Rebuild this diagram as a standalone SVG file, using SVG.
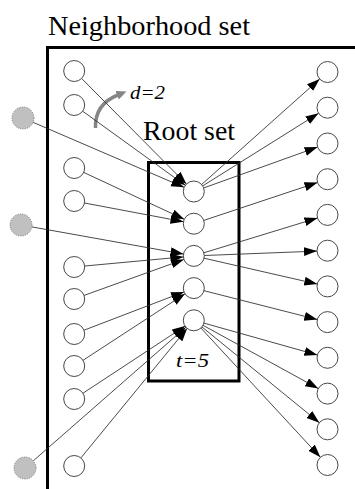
<svg xmlns="http://www.w3.org/2000/svg" width="355" height="489" viewBox="0 0 355 489">
  <style>
    .node { fill: #ffffff; stroke: #333333; stroke-width: 0.9; }
    .ext { fill: #c0c0c0; stroke: #777777; stroke-width: 1; stroke-dasharray: 1 1.4; }
    .edge { stroke: #2a2a2a; stroke-width: 0.85; fill: none; marker-end: url(#arrow); }
    .frame { fill: none; stroke: #000000; stroke-width: 3; }
  </style>
  <defs>
    <marker id="arrow" markerUnits="userSpaceOnUse" markerWidth="14" markerHeight="10" refX="13" refY="4.5" orient="auto">
      <path d="M0,0 L13,4.5 L0,9 z" fill="#000000"/>
    </marker>
    <marker id="grayArrow" markerUnits="userSpaceOnUse" markerWidth="12" markerHeight="10" refX="2" refY="4.5" orient="auto">
      <path d="M0,0 L10,4.5 L0,9 z" fill="#858585"/>
    </marker>
  </defs>

  <rect width="355" height="489" fill="#ffffff"/>

  <!-- neighborhood frame: left and top edges, open to the right and bottom -->
  <g id="neighborhood-set">
    <path class="frame" d="M47.5,489 L47.5,47.5 L355,47.5"/>
    <text x="48" y="34.5" font-family="Liberation Serif, serif" font-size="28" textLength="202" lengthAdjust="spacingAndGlyphs">Neighborhood set</text>
  </g>

  <!-- root set frame -->
  <g id="root-set">
    <rect class="frame" x="148.5" y="162.5" width="90.5" height="218.5"/>
    <text x="143" y="139.5" font-family="Liberation Serif, serif" font-size="27" textLength="92" lengthAdjust="spacingAndGlyphs">Root set</text>
    <text x="176" y="367" font-family="Liberation Serif, serif" font-style="italic" font-size="19" textLength="33" lengthAdjust="spacingAndGlyphs">t=5</text>
  </g>

  <!-- depth annotation -->
  <g id="depth">
    <path d="M95.5,128 Q94.5,104 119,94.5" fill="none" stroke="#858585" stroke-width="3.5" marker-end="url(#grayArrow)"/>
    <text x="130" y="98.5" font-family="Liberation Serif, serif" font-style="italic" font-size="18" textLength="35" lengthAdjust="spacingAndGlyphs">d=2</text>
  </g>

  <!-- connectors -->
  <g id="edges">
    <line class="edge" x1="81.6" y1="78.45" x2="186.4" y2="184.05"/>
    <line class="edge" x1="82.7" y1="111.2" x2="185.3" y2="185.35"/>
    <line class="edge" x1="33.1" y1="122.35" x2="184.15" y2="187.35"/>
    <line class="edge" x1="83.7" y1="172.4" x2="184.3" y2="219.3"/>
    <line class="edge" x1="84.5" y1="203.0" x2="183.5" y2="221.7"/>
    <line class="edge" x1="31.8" y1="226.9" x2="183.5" y2="254.05"/>
    <line class="edge" x1="84.7" y1="266.0" x2="183.35" y2="256.9"/>
    <line class="edge" x1="84.1" y1="295.4" x2="183.9" y2="259.45"/>
    <line class="edge" x1="84.0" y1="330.2" x2="184.0" y2="291.9"/>
    <line class="edge" x1="83.0" y1="360.3" x2="185.0" y2="293.8"/>
    <line class="edge" x1="83.0" y1="393.2" x2="185.0" y2="326.1"/>
    <line class="edge" x1="33.3" y1="460.8" x2="185.9" y2="327.2"/>
    <line class="edge" x1="80.9" y1="457.9" x2="187.1" y2="328.4"/>

    <line class="edge" x1="201.6" y1="184.5" x2="319.7" y2="79.0"/>
    <line class="edge" x1="202.7" y1="185.9" x2="318.6" y2="113.3"/>
    <line class="edge" x1="203.7" y1="187.95" x2="317.6" y2="147.05"/>
    <line class="edge" x1="203.8" y1="220.4" x2="317.5" y2="182.5"/>
    <line class="edge" x1="203.8" y1="252.8" x2="317.5" y2="218.0"/>
    <line class="edge" x1="204.3" y1="255.5" x2="317.0" y2="251.1"/>
    <line class="edge" x1="204.0" y1="258.2" x2="317.3" y2="284.1"/>
    <line class="edge" x1="204.0" y1="290.7" x2="317.3" y2="319.5"/>
    <line class="edge" x1="203.9" y1="323.1" x2="317.4" y2="355.0"/>
    <line class="edge" x1="203.0" y1="325.3" x2="318.3" y2="388.55"/>
    <line class="edge" x1="201.9" y1="326.9" x2="319.4" y2="422.7"/>
    <line class="edge" x1="200.9" y1="328.0" x2="320.4" y2="457.3"/>
  </g>

  <!-- outside pages -->
  <g id="ext-1"><circle class="ext" cx="23" cy="118" r="11"/></g>
  <g id="ext-2"><circle class="ext" cx="21" cy="225" r="11"/></g>
  <g id="ext-3"><circle class="ext" cx="25" cy="468" r="11"/></g>

  <!-- back-linking pages -->
  <g id="in-1"><circle class="node" cx="74.2" cy="71" r="10.5"/></g>
  <g id="in-2"><circle class="node" cx="74.2" cy="105" r="10.5"/></g>
  <g id="in-3"><circle class="node" cx="74.2" cy="168" r="10.5"/></g>
  <g id="in-4"><circle class="node" cx="74.2" cy="201" r="10.5"/></g>
  <g id="in-5"><circle class="node" cx="74.2" cy="267" r="10.5"/></g>
  <g id="in-6"><circle class="node" cx="74.2" cy="299" r="10.5"/></g>
  <g id="in-7"><circle class="node" cx="74.2" cy="334" r="10.5"/></g>
  <g id="in-8"><circle class="node" cx="74.2" cy="366" r="10.5"/></g>
  <g id="in-9"><circle class="node" cx="74.2" cy="399" r="10.5"/></g>
  <g id="in-10"><circle class="node" cx="74.2" cy="466" r="10.5"/></g>

  <!-- root pages -->
  <g id="root-1"><circle class="node" cx="193.8" cy="191.5" r="10.5"/></g>
  <g id="root-2"><circle class="node" cx="193.8" cy="223.7" r="10.5"/></g>
  <g id="root-3"><circle class="node" cx="193.8" cy="255.9" r="10.5"/></g>
  <g id="root-4"><circle class="node" cx="193.8" cy="288.1" r="10.5"/></g>
  <g id="root-5"><circle class="node" cx="193.8" cy="320.3" r="10.5"/></g>

  <!-- forward-linked pages -->
  <g id="out-1"><circle class="node" cx="327.5" cy="72" r="10.5"/></g>
  <g id="out-2"><circle class="node" cx="327.5" cy="107.7" r="10.5"/></g>
  <g id="out-3"><circle class="node" cx="327.5" cy="143.5" r="10.5"/></g>
  <g id="out-4"><circle class="node" cx="327.5" cy="179.2" r="10.5"/></g>
  <g id="out-5"><circle class="node" cx="327.5" cy="214.9" r="10.5"/></g>
  <g id="out-6"><circle class="node" cx="327.5" cy="250.7" r="10.5"/></g>
  <g id="out-7"><circle class="node" cx="327.5" cy="286.4" r="10.5"/></g>
  <g id="out-8"><circle class="node" cx="327.5" cy="322.1" r="10.5"/></g>
  <g id="out-9"><circle class="node" cx="327.5" cy="357.8" r="10.5"/></g>
  <g id="out-10"><circle class="node" cx="327.5" cy="393.6" r="10.5"/></g>
  <g id="out-11"><circle class="node" cx="327.5" cy="429.3" r="10.5"/></g>
  <g id="out-12"><circle class="node" cx="327.5" cy="465" r="10.5"/></g>
</svg>
